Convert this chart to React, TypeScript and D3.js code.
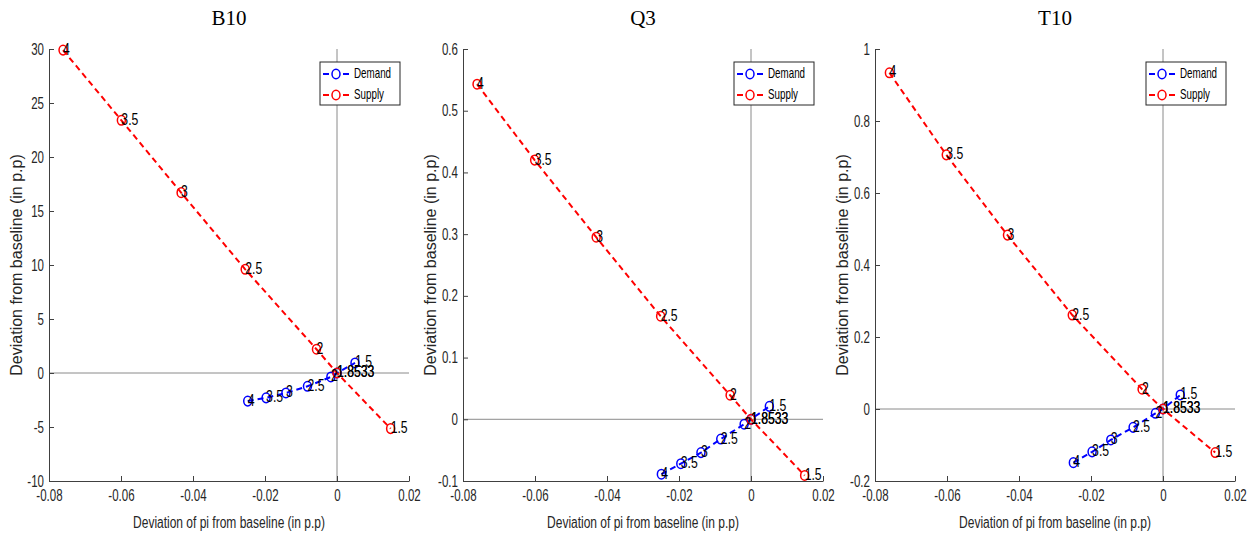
import React, { useRef, useEffect } from "react";
import * as d3 from "d3";

// parameter value shown next to each point
const params = ["4", "3.5", "3", "2.5", "2", "1.8533", "1.5"];

const b10DemandX = [-0.0248, -0.0197, -0.0142, -0.0082, -0.0017, 0, 0.005];
const b10DemandY = [-2.6, -2.3, -1.85, -1.23, -0.37, 0, 0.93];
const b10SupplyX = [-0.0761, -0.0599, -0.0433, -0.0255, -0.0057, 0, 0.0149];
const b10SupplyY = [29.9, 23.4, 16.7, 9.6, 2.2, 0, -5.15];

const q3DemandX = [-0.0249, -0.0195, -0.0139, -0.0084, -0.0019, 0, 0.0051];
const q3DemandY = [-0.089, -0.072, -0.054, -0.032, -0.008, 0, 0.021];
const q3SupplyX = [-0.0761, -0.0601, -0.043, -0.0251, -0.0058, 0, 0.0149];
const q3SupplyY = [0.543, 0.42, 0.295, 0.167, 0.039, 0, -0.091];

const t10DemandX = [-0.0249, -0.0197, -0.0145, -0.0083, -0.0021, 0, 0.0048];
const t10DemandY = [-0.149, -0.119, -0.086, -0.051, -0.012, 0, 0.039];
const t10SupplyX = [-0.076, -0.0602, -0.0432, -0.0252, -0.0058, 0, 0.0145];
const t10SupplyY = [0.934, 0.706, 0.483, 0.261, 0.055, 0, -0.121];

const titles = ["B10", "Q3", "T10"];
const xTicks = [-0.08, -0.06, -0.04, -0.02, 0, 0.02];
const b10YTicks = [-10, -5, 0, 5, 10, 15, 20, 25, 30];
const q3YTicks = [-0.1, 0, 0.1, 0.2, 0.3, 0.4, 0.5, 0.6];
const t10YTicks = [-0.2, 0, 0.2, 0.4, 0.6, 0.8, 1];
const seriesNames = ["Demand", "Supply"];

const panels = [
  { title: titles[0], yTicks: b10YTicks, dx: b10DemandX, dy: b10DemandY, sx: b10SupplyX, sy: b10SupplyY },
  { title: titles[1], yTicks: q3YTicks, dx: q3DemandX, dy: q3DemandY, sx: q3SupplyX, sy: q3SupplyY },
  { title: titles[2], yTicks: t10YTicks, dx: t10DemandX, dy: t10DemandY, sx: t10SupplyX, sy: t10SupplyY },
];

const lefts = [49, 463, 875];
const TOP = 49;
const W = 360;
const H = 432;
const SANS = "'Liberation Sans', Arial, sans-serif";
const SQ = 0.72; // horizontal squeeze, the reference text is condensed
const fmt = (d: number) => (d === 0 ? "0" : String(+d.toFixed(3)));

const App = () => {
  const svgRef = useRef<SVGSVGElement>(null);

  useEffect(() => {
    const svg = d3.select(svgRef.current);
    svg.selectAll("*").remove();

    panels.forEach((p, i) => {
      const g = svg.append("g").attr("transform", `translate(${lefts[i]},${TOP})`);
      const x = d3.scaleLinear().domain([-0.08, 0.02]).range([0, W]);
      const yt = p.yTicks;
      const y = d3.scaleLinear().domain([yt[0], yt[yt.length - 1]]).range([H, 0]);

      // zero lines
      g.append("line").attr("x1", x(0)).attr("x2", x(0)).attr("y1", 0).attr("y2", H)
        .attr("stroke", "#8a8a8a").attr("stroke-width", 1);
      g.append("line").attr("x1", 0).attr("x2", W).attr("y1", y(0)).attr("y2", y(0))
        .attr("stroke", "#8a8a8a").attr("stroke-width", 1);

      const xAxis = d3.axisBottom(x).tickValues(xTicks).tickFormat(fmt as any)
        .tickSizeInner(-5).tickSizeOuter(0).tickPadding(9);
      const gx = g.append("g").attr("transform", `translate(0,${H})`).call(xAxis);
      const yAxis = d3.axisLeft(y).tickValues(yt).tickFormat(fmt as any)
        .tickSizeInner(-5).tickSizeOuter(0).tickPadding(7);
      const gy = g.append("g").call(yAxis);
      [gx, gy].forEach((a) => {
        a.select(".domain").attr("stroke", "#404040");
        a.selectAll(".tick line").attr("stroke", "#404040");
        a.selectAll("text").attr("font-family", SANS).attr("font-size", 16).attr("fill", "#262626")
          .attr("transform", `scale(${SQ},1)`);
      });

      const series = [
        { xs: p.dx, ys: p.dy, color: "#0000ff" },
        { xs: p.sx, ys: p.sy, color: "#ff0000" },
      ];
      series.forEach((s) => {
        const pts = s.xs.map((v, k) => [v, s.ys[k]] as [number, number]);
        g.append("path")
          .attr("d", d3.line().x((d) => x(d[0])).y((d) => y(d[1]))(pts))
          .attr("fill", "none").attr("stroke", s.color).attr("stroke-width", 2)
          .attr("stroke-dasharray", "6,4");
        g.selectAll(null).data(pts).join("ellipse")
          .attr("cx", (d) => x(d[0])).attr("cy", (d) => y(d[1])).attr("rx", 4).attr("ry", 4.8)
          .attr("fill", "none").attr("stroke", s.color).attr("stroke-width", 1.5);
      });
      series.forEach((s) => {
        g.selectAll(null).data(s.xs).join("text")
          .attr("transform", (d, k) => `translate(${x(d)},${y(s.ys[k])}) scale(${SQ},1)`)
          .attr("dominant-baseline", "middle")
          .attr("font-family", SANS).attr("font-size", 17).attr("fill", "#000")
          .text((d, k) => params[k]);
      });

      // legend
      const lg = g.append("g").attr("transform", `translate(${W - 89},13)`);
      lg.append("rect").attr("width", 80).attr("height", 43).attr("fill", "#fff")
        .attr("stroke", "#262626").attr("stroke-width", 1);
      series.forEach((s, k) => {
        const ry = 12 + k * 21;
        lg.append("line").attr("x1", 3).attr("x2", 29).attr("y1", ry).attr("y2", ry)
          .attr("stroke", s.color).attr("stroke-width", 2).attr("stroke-dasharray", "6,4");
        lg.append("ellipse").attr("cx", 16).attr("cy", ry).attr("rx", 4).attr("ry", 4.8)
          .attr("fill", "#fff").attr("stroke", s.color).attr("stroke-width", 1.5);
        lg.append("text").attr("transform", `translate(34,${ry}) scale(0.7,1)`)
          .attr("dominant-baseline", "middle")
          .attr("font-family", SANS).attr("font-size", 14).attr("fill", "#000")
          .text(seriesNames[k]);
      });

      g.append("text").attr("x", W / 2).attr("y", -29).attr("text-anchor", "middle")
        .attr("dominant-baseline", "middle").attr("font-family", "'Liberation Serif', serif")
        .attr("font-size", 21).attr("fill", "#000").text(p.title);
      g.append("text").attr("transform", `translate(${W / 2},${H + 43}) scale(0.75,1)`)
        .attr("text-anchor", "middle")
        .attr("dominant-baseline", "middle").attr("font-family", SANS)
        .attr("font-size", 16).attr("fill", "#262626").text("Deviation of pi from baseline (in p.p)");
      g.append("text").attr("transform", `translate(-31,${H / 2}) rotate(-90)`)
        .attr("text-anchor", "middle").attr("dominant-baseline", "middle")
        .attr("font-family", SANS)
        .attr("font-size", 16).attr("fill", "#262626").text("Deviation from baseline (in p.p)");
    });
  }, []);

  return (
    <>
      <style>{`body{margin:0}`}</style>
      <svg ref={svgRef} width={1254} height={537} style={{ display: "block", background: "#fff" }} />
    </>
  );
};

export default App;
